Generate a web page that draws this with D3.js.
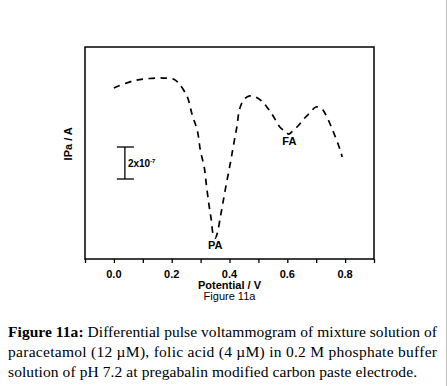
<!DOCTYPE html>
<html>
<head>
<meta charset="utf-8">
<script src="https://cdn.jsdelivr.net/npm/d3@7"></script>
<style>
  body { margin: 0; background: #fff; }
  svg { display: block; }
</style>
</head>
<body>
<div id="chart"></div>
<script>
// potential (V) and current (µA, arbitrary offset)
const potential = [0.000, 0.066, 0.122, 0.170, 0.209, 0.226, 0.254, 0.271, 0.289, 0.299,
  0.313, 0.320, 0.329, 0.337, 0.344, 0.351, 0.358, 0.369, 0.379, 0.391, 0.403, 0.414,
  0.426, 0.435, 0.452, 0.470, 0.490, 0.511, 0.532, 0.553, 0.574, 0.595, 0.605, 0.619,
  0.637, 0.657, 0.678, 0.699, 0.720, 0.737, 0.751, 0.769, 0.783, 0.790];
const current = [1.069, 1.113, 1.128, 1.131, 1.122, 1.094, 1.013, 0.900, 0.800, 0.681,
  0.569, 0.463, 0.338, 0.244, 0.150, 0.131, 0.163, 0.269, 0.369, 0.488, 0.600, 0.713,
  0.831, 0.938, 1.000, 1.019, 1.013, 0.988, 0.944, 0.888, 0.825, 0.794, 0.781, 0.800,
  0.831, 0.875, 0.913, 0.950, 0.938, 0.888, 0.831, 0.750, 0.681, 0.638];
const xTicks = [-0.1, 0.0, 0.1, 0.2, 0.3, 0.4, 0.5, 0.6, 0.7, 0.8, 0.9];
const xTickLabels = ["0.0", "0.2", "0.4", "0.6", "0.8"];
const peaks = [{ name: "PA", v: 0.351, i: 0.06 }, { name: "FA", v: 0.607, i: 0.71 }];
const scaleBar = { v: 0.038, from: 0.50, to: 0.70, label: "2x10", exp: "-7" };
const caption = [
  "paracetamol (12 µM), folic acid (4 µM) in 0.2 M phosphate buffer",
  "solution of pH 7.2 at pregabalin modified carbon paste electrode."
];

const W = 447, H = 386;
const margin = { top: 47, right: 73, bottom: 127, left: 85 };
const width = W - margin.left - margin.right;
const height = H - margin.top - margin.bottom;

const svg = d3.select("#chart").append("svg")
    .attr("width", W)
    .attr("height", H);

const g = svg.append("g")
    .attr("transform", `translate(${margin.left}, ${margin.top})`);

const x = d3.scaleLinear().domain([-0.1, 0.9]).range([0, width]);
const y = d3.scaleLinear().domain([0, 1.325]).range([height, 0]);

const data = potential.map((v, k) => ({ v: v, i: current[k] }));

// frame
g.append("rect")
    .attr("width", width)
    .attr("height", height)
    .attr("fill", "none")
    .attr("stroke", "#000")
    .attr("stroke-width", 1.5);

// x axis, ticks outward
g.append("g")
    .attr("transform", `translate(0, ${height})`)
    .call(d3.axisBottom(x).tickValues(xTicks).tickSize(4).tickFormat(""))
    .call(a => a.select(".domain").remove())
    .selectAll("line").attr("stroke-width", 1.3);

g.selectAll(".xlab")
    .data(xTickLabels)
    .join("text")
    .attr("x", d => x(+d))
    .attr("y", height + 19)
    .attr("text-anchor", "middle")
    .style("font-family", "Liberation Sans, Arial, sans-serif")
    .style("font-weight", "bold")
    .style("font-size", "11px")
    .text(d => d);

g.append("text")
    .attr("x", x(0.4))
    .attr("y", height + 30)
    .attr("text-anchor", "middle")
    .style("font-family", "Liberation Sans, Arial, sans-serif")
    .style("font-weight", "bold")
    .style("font-size", "11px")
    .text("Potential / V");

g.append("text")
    .attr("x", x(0.4))
    .attr("y", height + 41)
    .attr("text-anchor", "middle")
    .style("font-family", "Liberation Sans, Arial, sans-serif")
    .style("font-size", "11px")
    .text("Figure 11a");

g.append("text")
    .attr("transform", `translate(-13, ${y(0.72)}) rotate(-90)`)
    .attr("text-anchor", "middle")
    .style("font-family", "Liberation Sans, Arial, sans-serif")
    .style("font-weight", "bold")
    .style("font-size", "11px")
    .text("IPa / A");

// voltammogram
const line = d3.line()
    .curve(d3.curveCatmullRom)
    .x(d => x(d.v))
    .y(d => y(d.i));

g.append("path")
    .datum(data)
    .attr("fill", "none")
    .attr("stroke", "#000")
    .attr("stroke-width", 1.7)
    .attr("stroke-dasharray", "6.5,5.5")
    .attr("d", line);

// peak labels
g.selectAll(".peak")
    .data(peaks)
    .join("text")
    .attr("x", d => x(d.v))
    .attr("y", d => y(d.i))
    .attr("text-anchor", "middle")
    .style("font-family", "Liberation Sans, Arial, sans-serif")
    .style("font-weight", "bold")
    .style("font-size", "11px")
    .text(d => d.name);

// scale bar
const sb = g.append("g");
sb.append("line")
    .attr("x1", x(scaleBar.v)).attr("x2", x(scaleBar.v))
    .attr("y1", y(scaleBar.from)).attr("y2", y(scaleBar.to))
    .attr("stroke", "#000").attr("stroke-width", 1.3);
[scaleBar.from, scaleBar.to].forEach(val => {
  sb.append("line")
      .attr("x1", x(scaleBar.v) - 8).attr("x2", x(scaleBar.v) + 9)
      .attr("y1", y(val)).attr("y2", y(val))
      .attr("stroke", "#000").attr("stroke-width", 1.3);
});
const sbText = sb.append("text")
    .attr("x", x(scaleBar.v) + 3)
    .attr("y", y((scaleBar.from + scaleBar.to) / 2) + 4)
    .style("font-family", "Liberation Sans, Arial, sans-serif")
    .style("font-weight", "bold")
    .style("font-size", "10px")
    .text(scaleBar.label);
sbText.append("tspan")
    .attr("dy", -4)
    .style("font-size", "6px")
    .text(scaleBar.exp);

// caption
const cap = svg.append("g").style("font-family", "Liberation Serif, 'Times New Roman', serif")
    .style("font-size", "15.5px");
const first = cap.append("text")
    .attr("x", 8)
    .attr("y", 337)
    .attr("textLength", 429)
    .attr("lengthAdjust", "spacing");
first.append("tspan").style("font-weight", "bold").text("Figure 11a:");
first.append("tspan").text(" Differential pulse voltammogram of mixture solution of");
cap.append("text")
    .attr("x", 8)
    .attr("y", 357)
    .attr("textLength", 429)
    .attr("lengthAdjust", "spacing")
    .text(caption[0]);
cap.append("text")
    .attr("x", 8)
    .attr("y", 377)
    .attr("textLength", 409)
    .attr("lengthAdjust", "spacing")
    .text(caption[1]);

// right edge border
svg.append("line")
    .attr("x1", W - 0.5).attr("x2", W - 0.5)
    .attr("y1", 0).attr("y2", H)
    .attr("stroke", "#bbb");
</script>
</body>
</html>
